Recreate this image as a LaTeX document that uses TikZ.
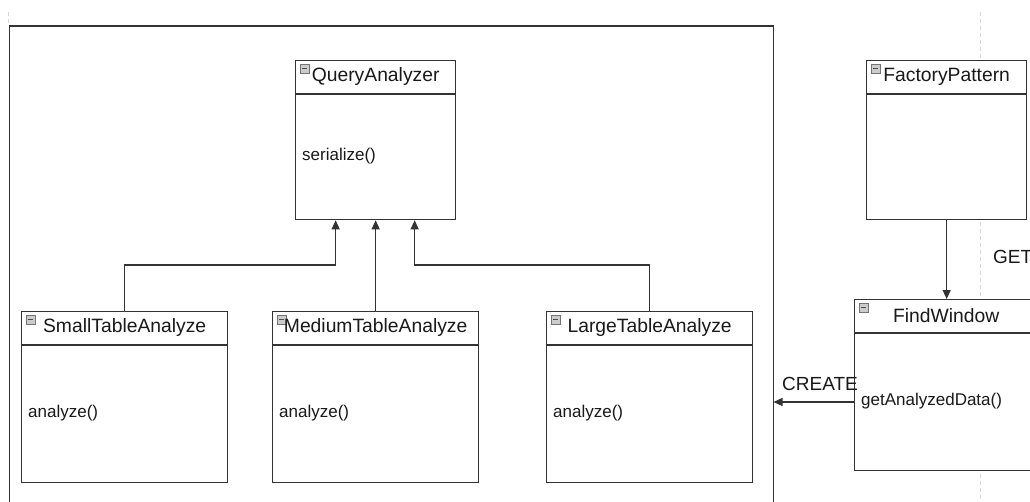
\documentclass[tikz,border=0pt]{standalone}
\usepackage{fontspec}
\setmainfont{Liberation Sans}
\usetikzlibrary{arrows.meta,calc}

\tikzset{
  line/.style={draw=black!80, line width=1.3pt},
  arr/.style={line, -{Triangle[length=9pt,width=8pt]}},
  classbox/.style={line, fill=white, rectangle, anchor=north west, inner sep=0pt},
  title/.style={font=\fontsize{19.3}{23}\selectfont, text=black!90, inner sep=0pt},
  method/.style={font=\fontsize{17}{20}\selectfont, text=black!90, inner sep=0pt, anchor=west},
  label/.style={font=\fontsize{19}{23}\selectfont, text=black!90, inner sep=0pt},
  pageline/.style={draw=black!15, line width=0.8pt, dash pattern=on 4pt off 3pt},
  minbox/.pic={
    \draw[draw=black!55, fill=black!20, line width=0.6pt] (0,0) rectangle (9,9);
    \draw[black!70, line width=1pt] (2,4.5) -- (7,4.5);
  }
}

% UML class: name, x, y, width, height, title, method
\newcommand\umlclass[7]{%
  \node[classbox, minimum width=#4pt, minimum height=#5pt] (#1) at (#2,#3) {};
  \draw[line] ($(#1.north west)+(0,34)$) -- ($(#1.north east)+(0,34)$);
  \pic at ($(#1.north west)+(5,4)$) {minbox};
  \node[title] (#1-title) at ($(#1.north)+(0,17)$) {#6};
  \node[method] (#1-method) at ($(#1.north west)+(7,34+0.5*#5-17)$) {#7};
}

\begin{document}
\begin{tikzpicture}[x=1pt, y=-1pt]
  \useasboundingbox (0,0) rectangle (1030,501);

  % page break guides
  \draw[pageline] (980,12) -- (980,501);
  \draw[pageline] (8.5,12) -- (8.5,26);

  % package frame (open at the bottom edge)
  \draw[line] (9.5,510) -- (9.5,26) -- (773.5,26) -- (773.5,510);

  % classes
  \umlclass{qa}{295}{60}{160}{159}{QueryAnalyzer}{serialize()}
  \umlclass{small}{21}{311}{206}{171}{SmallTableAnalyze}{analyze()}
  \umlclass{medium}{272}{311}{206}{171}{MediumTableAnalyze}{analyze()}
  \umlclass{large}{546}{311}{206}{171}{LargeTableAnalyze}{analyze()}
  \umlclass{factory}{866}{60}{160}{159}{FactoryPattern}{}
  \umlclass{find}{854}{299}{183}{171}{FindWindow}{getAnalyzedData()}

  % inheritance connectors
  \coordinate (qaL) at ($(qa.south)+(-40,0)$);
  \coordinate (qaR) at ($(qa.south)+(39,0)$);
  \coordinate (jL) at (qaL |- 0,265);
  \coordinate (jR) at (qaR |- 0,265);
  \draw[arr] (small.north) |- (jL) -- (qaL);
  \draw[arr] (medium.north) -- (qa.south);
  \draw[arr] (large.north) |- (jR) -- (qaR);

  % factory usage
  \coordinate (fTop) at (factory.south);
  \draw[arr] (factory.south) -- (fTop |- find.north);

  % create link to the package frame
  \coordinate (frameR) at (773.5,402);
  \draw[arr] (find.west |- frameR) -- (frameR);
  \node[label, anchor=south west] (create) at (782,391) {CREATE};
  \node[label, anchor=south west] (get) at (993,264) {GET};
\end{tikzpicture}
\end{document}
